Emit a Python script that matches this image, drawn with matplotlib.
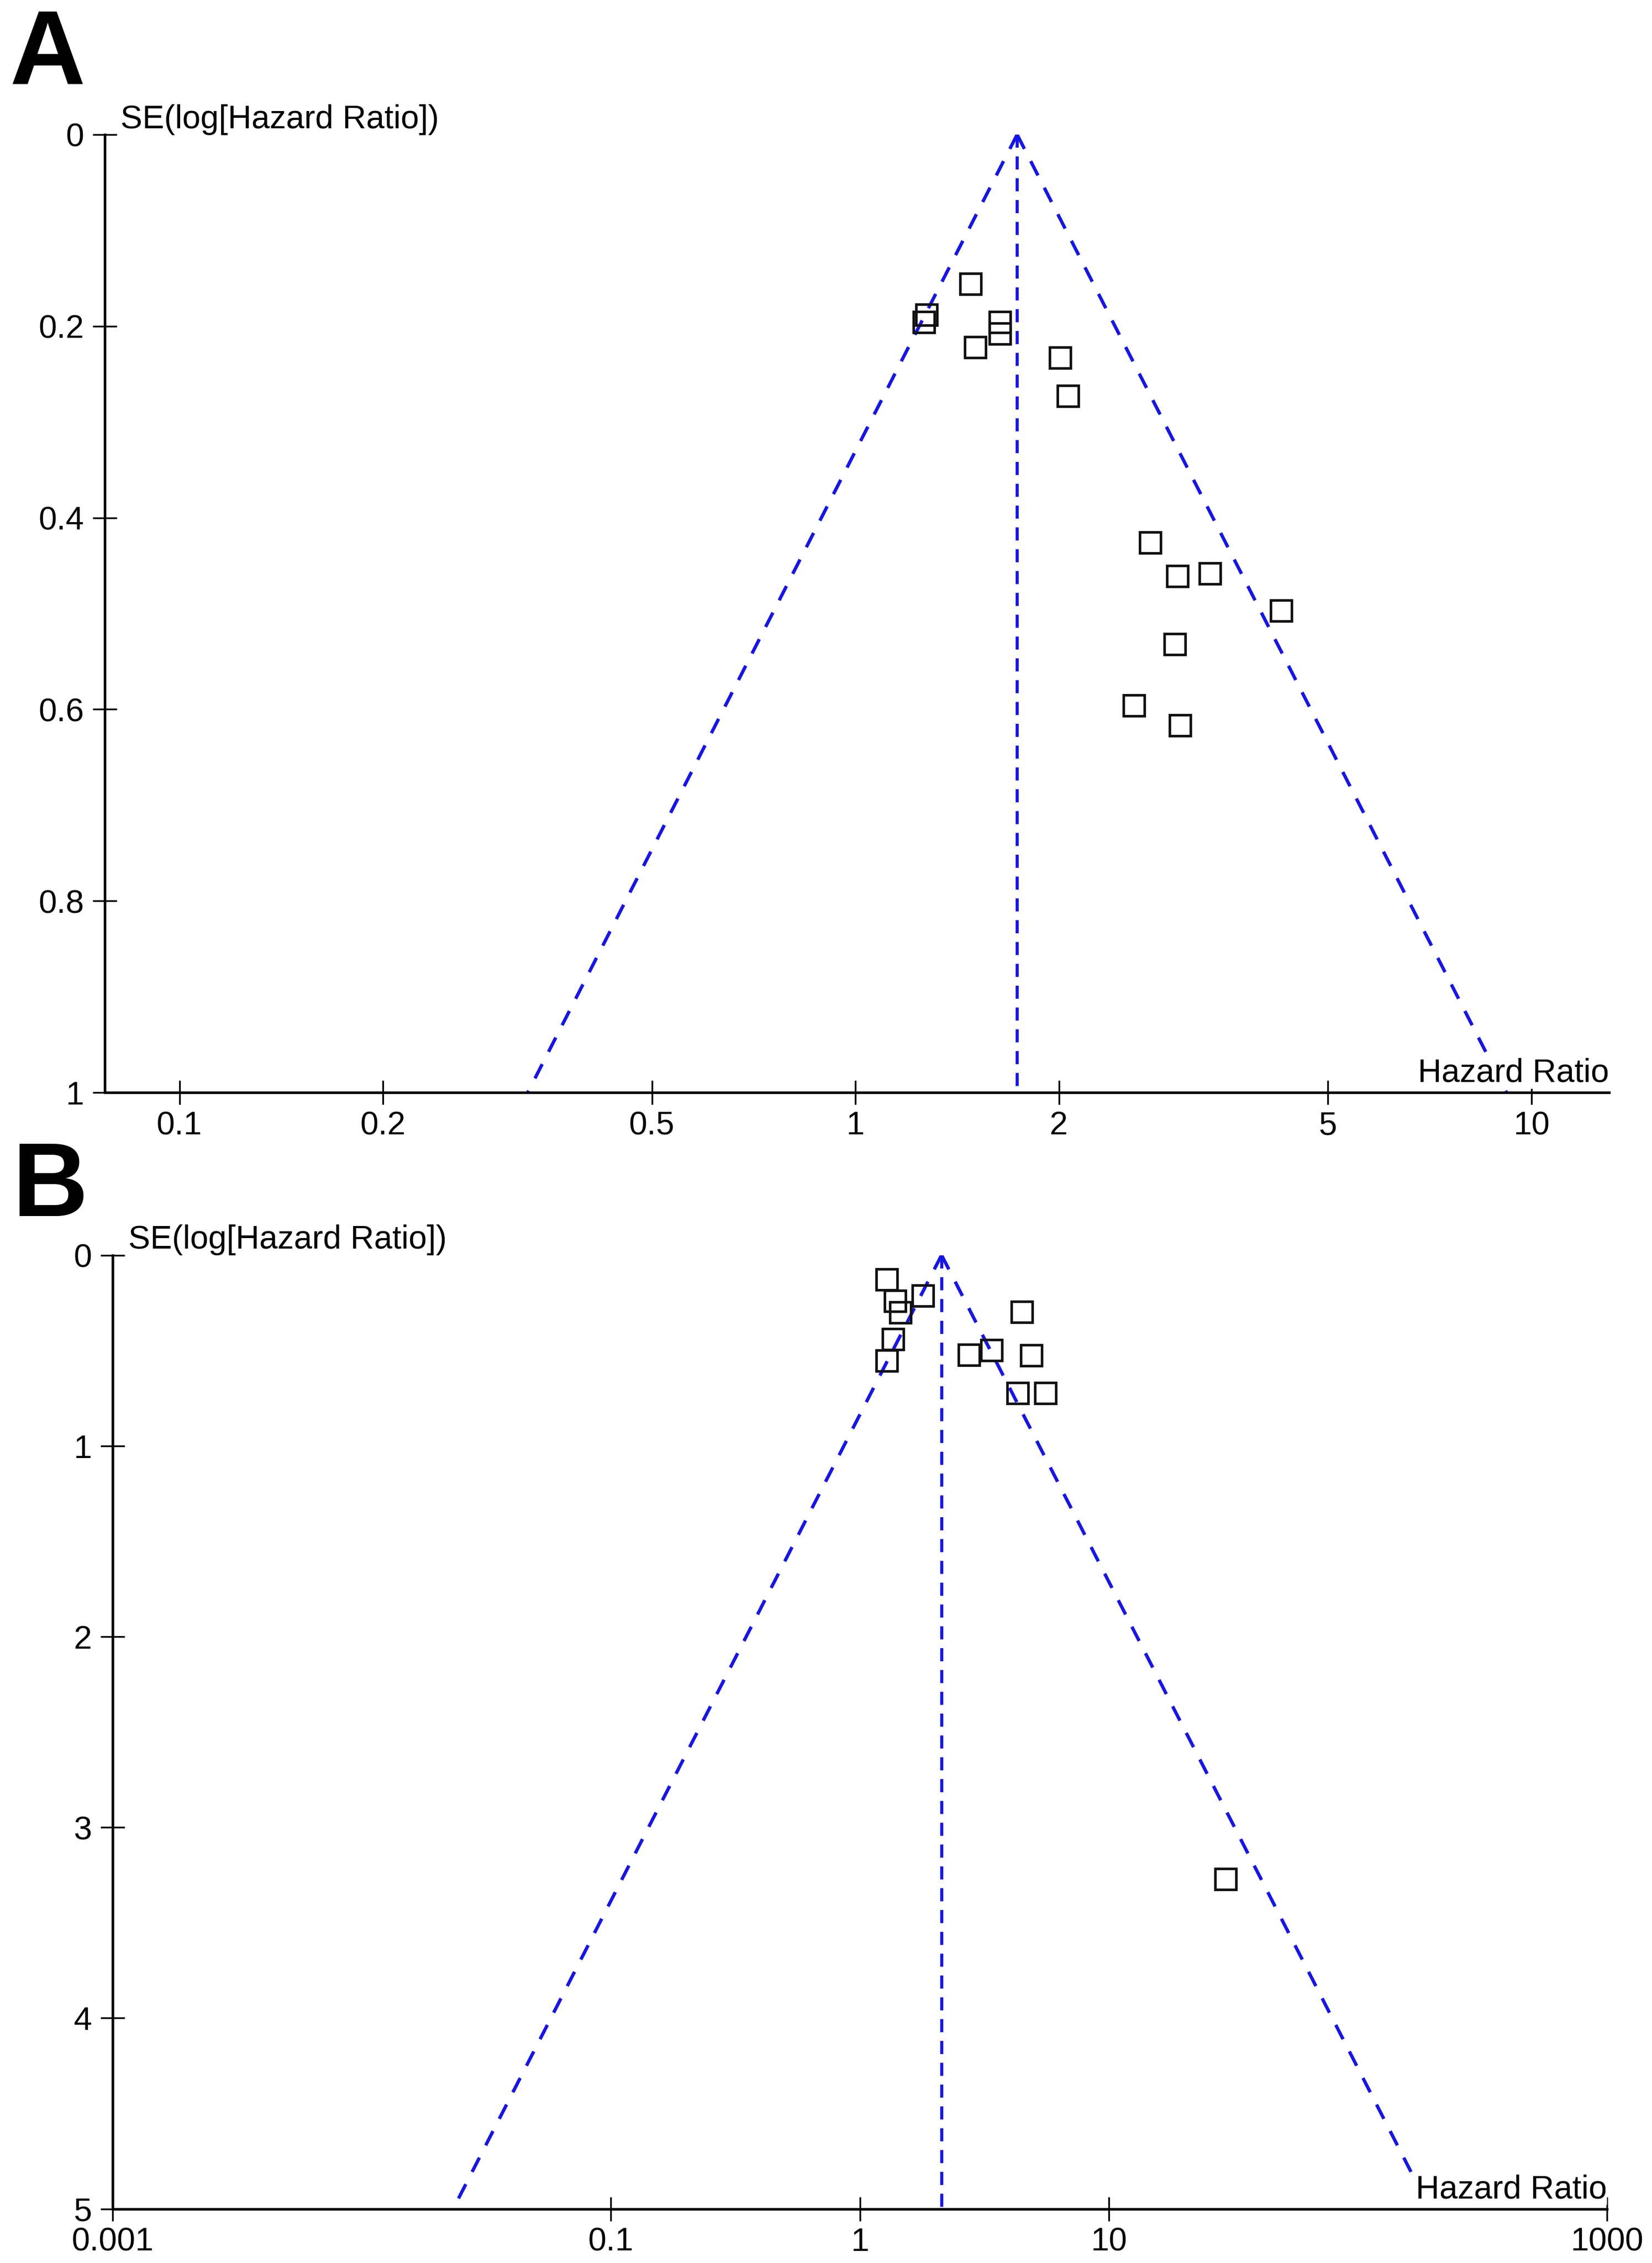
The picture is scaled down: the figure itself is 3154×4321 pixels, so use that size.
import numpy as np
import matplotlib
matplotlib.use('Agg')
import matplotlib.pyplot as plt

plt.rcParams['font.family'] = ['Liberation Sans', 'DejaVu Sans']
plt.rcParams['lines.scale_dashes'] = False

# panel A: hazard ratio vs SE(log HR)
hr_a = [1.48, 1.275, 1.263, 1.636, 1.636, 1.505, 2.01, 2.064,
        2.732, 2.997, 3.346, 4.264, 2.968, 2.583, 3.022]
se_a = [0.156, 0.188, 0.196, 0.196, 0.208, 0.222, 0.233, 0.273,
        0.426, 0.461, 0.458, 0.497, 0.532, 0.596, 0.617]
pooled_a = 1.735
z_a = 1.667
xticks_a = [0.1, 0.2, 0.5, 1, 2, 5, 10]
xlabels_a = ['0.1', '0.2', '0.5', '1', '2', '5', '10']
yticks_a = [0, 0.2, 0.4, 0.6, 0.8, 1]
ylabels_a = ['0', '0.2', '0.4', '0.6', '0.8', '1']

# panel B
hr_b = [1.282, 1.385, 1.454, 1.788, 1.357, 1.286, 4.486, 2.751,
        3.382, 4.886, 4.310, 5.561, 29.4]
se_b = [0.128, 0.240, 0.302, 0.212, 0.441, 0.554, 0.298, 0.524,
        0.497, 0.527, 0.724, 0.724, 3.272]
pooled_b = 2.13
z_b = 0.903
xticks_b = [0.001, 0.1, 1, 10, 1000]
xlabels_b = ['0.001', '0.1', '1', '10', '1000']
yticks_b = [0, 1, 2, 3, 4, 5]
ylabels_b = ['0', '1', '2', '3', '4', '5']

W, H = 3154, 4321
fig = plt.figure(figsize=(W / 100, H / 100), dpi=100)

blue = '#1616e2'
fs = 45


def funnel(rect, hr, se, pooled, z, xlim, ymax, xt, xl, yt, yl):
    ax = fig.add_axes(rect)
    ax.set_xscale('log')
    s = np.array([0, ymax])
    ax.plot(pooled * np.exp(-z * s), s, color=blue, lw=4.6,
            linestyle=(0, (22, 19)))
    ax.plot(pooled * np.exp(z * s), s, color=blue, lw=4.6,
            linestyle=(0, (22, 19)))
    ax.plot([pooled, pooled], s, color=blue, lw=4.2,
            linestyle=(0, (18, 12)))
    ax.plot(hr, se, 's', ms=28.8, mfc='none', mec='#111111', mew=3.5)
    ax.set_xlim(*xlim)
    ax.set_ylim(ymax, 0)
    ax.set_xticks(xt, xl)
    ax.set_yticks(yt, yl)
    ax.minorticks_off()
    for sp in ['top', 'right']:
        ax.spines[sp].set_visible(False)
    for sp in ['left', 'bottom']:
        ax.spines[sp].set_linewidth(3.6)
    ax.tick_params(direction='inout', length=33, width=2.4, labelsize=fs)
    ax.tick_params(axis='x', pad=8)
    ax.tick_params(axis='y', pad=12)
    ax.annotate('SE(log[Hazard Ratio])', xy=(0, 1), xycoords='axes fraction',
                xytext=(21.6, 9), textcoords='offset points',
                ha='left', va='baseline', fontsize=fs)
    # label box hides the funnel line but stays under the axis and ticks
    ax.annotate('Hazard Ratio', xy=(1, 0), xycoords='axes fraction',
                xytext=(0, 14.5), textcoords='offset points',
                ha='right', va='baseline', fontsize=fs, zorder=2.2,
                bbox=dict(boxstyle='square,pad=0', fc='white', ec='none'))
    return ax


funnel([200 / W, 1 - 2086 / H, 2872 / W, 1829 / H], hr_a, se_a, pooled_a, z_a,
       (0.07755, 13.03), 1, xticks_a, xlabels_a, yticks_a, ylabels_a)
funnel([215 / W, 1 - 4217.5 / H, 2853 / W, 1821 / H], hr_b, se_b, pooled_b, z_b,
       (0.001, 1000), 5, xticks_b, xlabels_b, yticks_b, ylabels_b)

fig.text(18 / W, 1 - 160 / H, 'A', fontsize=144, fontweight='bold',
         ha='left', va='baseline')
fig.text(24 / W, 1 - 2322 / H, 'B', fontsize=144, fontweight='bold',
         ha='left', va='baseline')

fig.savefig('out.png', dpi=100)
